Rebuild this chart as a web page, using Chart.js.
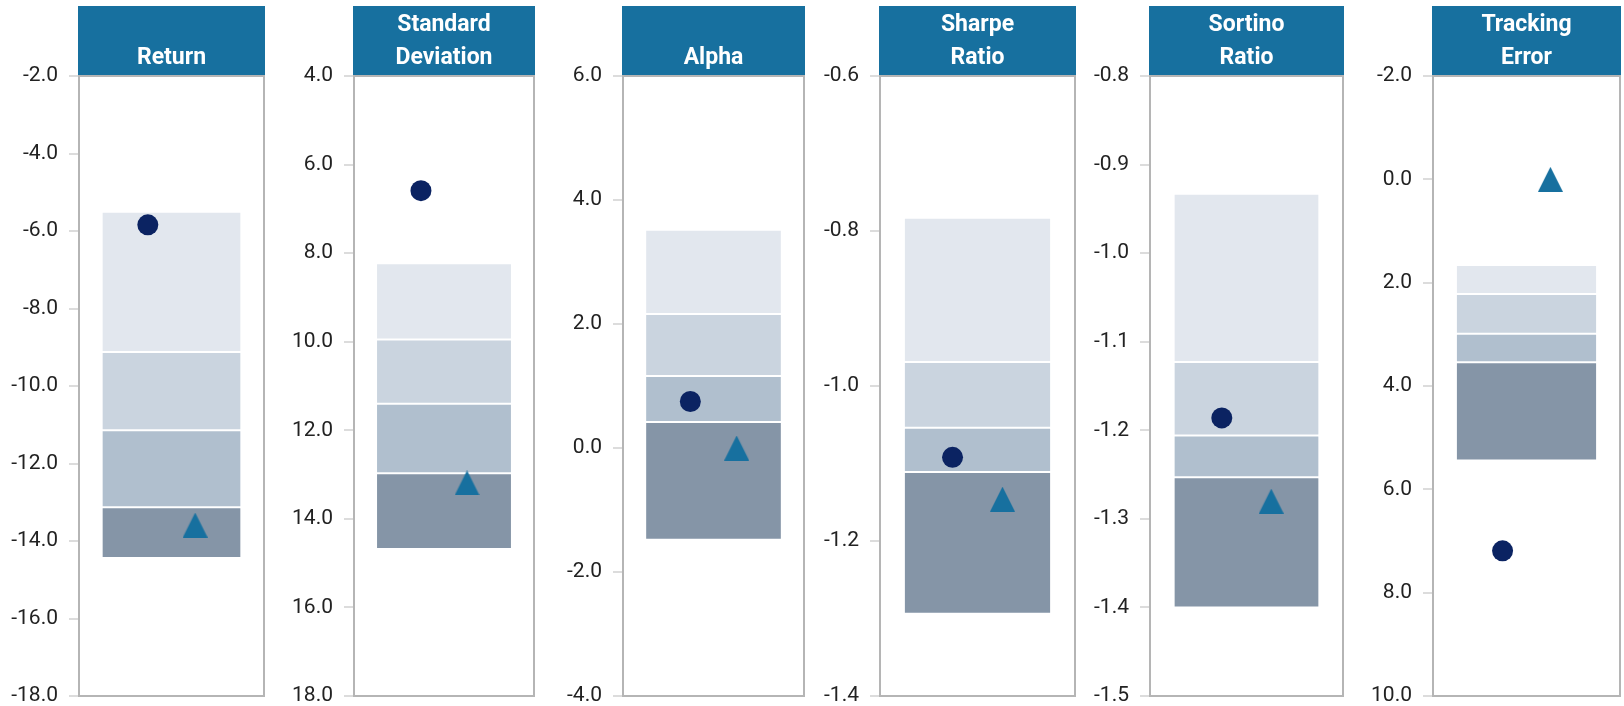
<!DOCTYPE html>
<html>
<head>
<meta charset="utf-8">
<script src="https://cdn.jsdelivr.net/npm/chart.js@4.4.1/dist/chart.umd.min.js"></script>
<style>
  html, body { margin: 0; padding: 0; background: #fff; }
  #wrap { position: relative; width: 1624px; height: 706px; overflow: hidden; }
  .panel { position: absolute; top: 0; }
</style>
</head>
<body>
<div id="wrap"></div>
<script>
// one header per panel (lines are stacked, last line sits at the bottom of the box)
const metricTitles = [['Return'], ['Standard', 'Deviation'], ['Alpha'], ['Sharpe', 'Ratio'], ['Sortino', 'Ratio'], ['Tracking', 'Error']];

// quartile band edges, read from the top of each box down to its bottom
const returnBands   = [-5.50, -9.12, -11.14, -13.13, -14.44];
const stdDevBands   = [8.23, 9.95, 11.40, 12.97, 14.68];
const alphaBands    = [3.52, 2.16, 1.16, 0.42, -1.48];
const sharpeBands   = [-0.783, -0.969, -1.054, -1.111, -1.294];
const sortinoBands  = [-0.933, -1.123, -1.206, -1.253, -1.400];
const trackingBands = [1.66, 2.22, 2.99, 3.54, 5.44];

// circle = fund, triangle = benchmark
const fundValues      = [-5.84, 6.59, 0.75, -1.092, -1.186, 7.19];
const benchmarkValues = [-13.59, 13.19, 0.0, -1.146, -1.280, 0.0];

// y axis setup per panel
const axisMin      = [-18, 4, -4, -1.4, -1.5, -2];
const axisMax      = [-2, 18, 6, -0.6, -0.8, 10];
const axisStep     = [2, 2, 2, 0.2, 0.1, 2];
const axisReversed = [false, true, false, false, false, true];

const allBands = [returnBands, stdDevBands, alphaBands, sharpeBands, sortinoBands, trackingBands];

// look
const HEADER_BG = '#17709f';
const FUND_COLOR = '#0b2362';
const BENCH_COLOR = '#17709f';
const BAND_COLORS = ['#e2e7ee', '#cad4df', '#b0bfce', '#8595a7'];

// page layout: plot box edges for each panel
const plotLefts  = [79, 354, 623, 880, 1150, 1433];
const plotRights = [264, 534, 804, 1075, 1343, 1620];
const AXIS_W = 70;
const MARK_SHIFT = 0.32; // circle left of centre, triangle right of it (x2 units)

function triangleSprite(size, color) {
    const c = document.createElement('canvas');
    c.width = size;
    c.height = size;
    const g = c.getContext('2d');
    g.fillStyle = color;
    g.beginPath();
    g.moveTo(size / 2, 0);
    g.lineTo(size, size);
    g.lineTo(0, size);
    g.closePath();
    g.fill();
    return c;
}

// header box + frame round the plot area
const panelFrame = {
    id: 'panelFrame',
    afterDraw(chart, args, opts) {
        const { ctx, chartArea: a } = chart;
        ctx.save();
        ctx.fillStyle = HEADER_BG;
        ctx.fillRect(a.left - 1, 6, a.right - a.left + 2, a.top - 6);

        ctx.fillStyle = '#fff';
        ctx.font = 'bold 23px Roboto';
        ctx.textAlign = 'center';
        ctx.textBaseline = 'alphabetic';
        const lines = opts.lines || [];
        const cx = (a.left + a.right) / 2;
        lines.forEach((t, i) => {
            ctx.fillText(t, cx, a.top - 12 - (lines.length - 1 - i) * 33);
        });

        ctx.strokeStyle = '#b5b5b5';
        ctx.lineWidth = 2;
        ctx.strokeRect(a.left, a.top, a.right - a.left, a.bottom - a.top);
        ctx.restore();
    }
};

const tri = triangleSprite(25, BENCH_COLOR);
const wrap = document.getElementById('wrap');

metricTitles.forEach((lines, i) => {
    const w = plotRights[i] - plotLefts[i] + AXIS_W + 2;
    const div = document.createElement('div');
    div.className = 'panel';
    div.style.left = (plotLefts[i] - AXIS_W) + 'px';
    div.style.width = w + 'px';
    div.style.height = '706px';
    const canvas = document.createElement('canvas');
    canvas.width = w;
    canvas.height = 706;
    div.appendChild(canvas);
    wrap.appendChild(div);

    const bands = allBands[i];
    const bandSets = BAND_COLORS.map((color, k) => ({
        data: [[bands[k + 1], bands[k]]],
        backgroundColor: color,
        borderColor: '#fff',
        borderWidth: 1,
        borderSkipped: false,
        grouped: false,
        barPercentage: 0.755,
        categoryPercentage: 1,
        order: 2
    }));

    new Chart(canvas, {
        type: 'bar',
        data: {
            labels: [''],
            datasets: [
                ...bandSets,
                {
                    type: 'scatter',
                    xAxisID: 'x2',
                    data: [{ x: -MARK_SHIFT, y: fundValues[i] }],
                    pointStyle: 'circle',
                    pointRadius: 10.5,
                    backgroundColor: FUND_COLOR,
                    borderWidth: 0,
                    order: 0
                },
                {
                    type: 'scatter',
                    xAxisID: 'x2',
                    data: [{ x: MARK_SHIFT, y: benchmarkValues[i] }],
                    pointStyle: tri,
                    pointRadius: 12.5,
                    backgroundColor: BENCH_COLOR,
                    borderWidth: 0,
                    order: 0
                }
            ]
        },
        options: {
            responsive: false,
            animation: false,
            devicePixelRatio: 1,
            layout: { autoPadding: false, padding: { left: 0, right: 2, top: 76, bottom: 10 } },
            plugins: {
                legend: { display: false },
                tooltip: { enabled: false },
                panelFrame: { lines: lines }
            },
            scales: {
                x: { display: false },
                x2: { type: 'linear', position: 'bottom', display: false, min: -1, max: 1 },
                y: {
                    min: axisMin[i],
                    max: axisMax[i],
                    reverse: axisReversed[i],
                    ticks: {
                        stepSize: axisStep[i],
                        callback: v => Number(v).toFixed(1),
                        font: { family: 'Roboto', size: 21 },
                        color: '#222',
                        padding: 11
                    },
                    grid: {
                        drawOnChartArea: false,
                        drawTicks: true,
                        tickLength: 10,
                        color: '#dcdcdc',
                        lineWidth: 2
                    },
                    border: { display: false },
                    afterFit(s) {
                        s.width = AXIS_W;
                        s.paddingTop = 0;
                        s.paddingBottom = 0;
                    }
                }
            }
        },
        plugins: [panelFrame]
    });
});
</script>
</body>
</html>
